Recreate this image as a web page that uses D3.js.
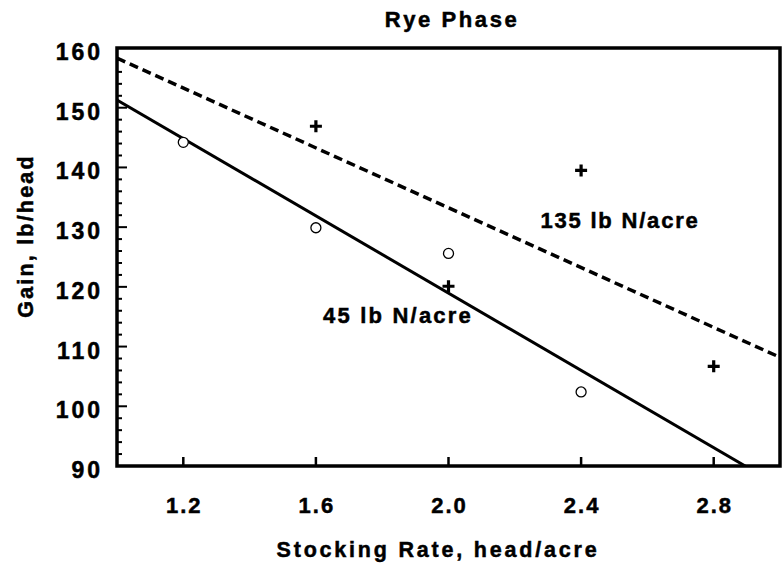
<!DOCTYPE html>
<html lang="en">
<head>
<meta charset="UTF-8">
<title>Rye Phase</title>
<script src="https://d3js.org/d3.v7.min.js"></script>
<style>
  body { margin: 0; background: white; }
  text { font-family: "Liberation Sans", Arial, sans-serif; font-weight: bold; fill: black;
         stroke: black; stroke-width: 0.5px; }
</style>
</head>
<body>
<div id="chart"></div>
<script>
// data
const rate45 = [1.2, 1.6, 2.0, 2.4];
const gain45 = [144.2, 129.9, 125.6, 102.4];
const rate135 = [1.6, 2.0, 2.4, 2.8];
const gain135 = [146.9, 120.1, 139.5, 106.7];
// fitted lines, end points
const fit45 = [[1.0, 151.3], [2.895, 90]];
const fit135 = [[1.0, 158.3], [3.0, 108.2]];
const xTicks = [1.2, 1.6, 2.0, 2.4, 2.8];
const yTicks = [90, 100, 110, 120, 130, 140, 150, 160];
const yMinor = d3.range(90, 161, 2);

const width = 783, height = 571;
const margin = { top: 48, right: 3, bottom: 105, left: 117 };

const svg = d3.select("#chart").append("svg")
    .attr("width", width).attr("height", height);

const x = d3.scaleLinear().domain([1.0, 3.0]).range([margin.left, width - margin.right]);
const y = d3.scaleLinear().domain([90, 160]).range([height - margin.bottom, margin.top]);

// title
svg.append("text").attr("x", 452).attr("y", 27).attr("text-anchor", "middle")
    .style("font-size", "22px").style("letter-spacing", "2.6px").text("Rye Phase");

// tick marks pointing in
const g = svg.append("g");
g.selectAll(".ymin").data(yMinor).enter().append("line")
    .attr("x1", x(1.0)).attr("x2", d => x(1.0) + (d % 10 === 0 ? 10 : 5))
    .attr("y1", d => y(d)).attr("y2", d => y(d))
    .attr("stroke", "black").attr("stroke-width", 2);
g.selectAll(".xt").data(xTicks).enter().append("line")
    .attr("x1", d => x(d)).attr("x2", d => x(d))
    .attr("y1", y(90)).attr("y2", y(90) - 9)
    .attr("stroke", "black").attr("stroke-width", 2.5);

// tick labels
svg.selectAll(".yl").data(yTicks).enter().append("text")
    .attr("x", 103).attr("y", d => y(d) + 12)
    .attr("text-anchor", "end").style("font-size", "23px").style("letter-spacing", "3px")
    .text(d => d);
svg.selectAll(".xl").data(xTicks).enter().append("text")
    .attr("x", d => x(d) + 1).attr("y", 513)
    .attr("text-anchor", "middle").style("font-size", "22px").style("letter-spacing", "2px")
    .text(d => d3.format(".1f")(d));

// axis titles
svg.append("text").attr("x", 438).attr("y", 557).attr("text-anchor", "middle")
    .style("font-size", "21.5px").style("letter-spacing", "2.8px").text("Stocking Rate, head/acre");
svg.append("text").attr("transform", "translate(33,236) rotate(-90)")
    .attr("text-anchor", "middle").style("font-size", "21.5px").style("letter-spacing", "2.2px")
    .text("Gain, lb/head");

// clip area for lines
svg.append("clipPath").attr("id", "clip").append("rect")
    .attr("x", x(1.0)).attr("y", y(160)).attr("width", x(3.0) - x(1.0)).attr("height", y(90) - y(160));

const line = d3.line().x(d => x(d[0])).y(d => y(d[1]));
svg.append("path").datum(fit45).attr("d", line).attr("clip-path", "url(#clip)")
    .attr("fill", "none").attr("stroke", "black").attr("stroke-width", 3);
svg.append("path").datum(fit135).attr("d", line).attr("clip-path", "url(#clip)")
    .attr("fill", "none").attr("stroke", "black").attr("stroke-width", 3.5)
    .attr("stroke-dasharray", "9,5");

// open circles, 45 lb N
svg.selectAll(".c45").data(rate45).enter().append("circle")
    .attr("cx", d => x(d)).attr("cy", (d, i) => y(gain45[i])).attr("r", 5)
    .attr("fill", "white").attr("stroke", "black").attr("stroke-width", 1.3);

// plus marks, 135 lb N
const plusShape = {
    draw(ctx) {
        ctx.moveTo(-6, -1.6); ctx.lineTo(-1.6, -1.6); ctx.lineTo(-1.6, -6); ctx.lineTo(1.6, -6);
        ctx.lineTo(1.6, -1.6); ctx.lineTo(6, -1.6); ctx.lineTo(6, 1.6); ctx.lineTo(1.6, 1.6);
        ctx.lineTo(1.6, 6); ctx.lineTo(-1.6, 6); ctx.lineTo(-1.6, 1.6); ctx.lineTo(-6, 1.6);
        ctx.closePath();
    }
};
svg.selectAll(".p135").data(rate135).enter().append("path")
    .attr("transform", (d, i) => `translate(${x(d)},${y(gain135[i])})`)
    .attr("d", d3.symbol().type(plusShape)).attr("fill", "black");

// line labels
svg.append("text").attr("x", 620).attr("y", 228).attr("text-anchor", "middle")
    .style("font-size", "22px").style("letter-spacing", "1.8px").text("135 lb N/acre");
svg.append("text").attr("x", 398).attr("y", 323).attr("text-anchor", "middle")
    .style("font-size", "22px").style("letter-spacing", "2.2px").text("45 lb N/acre");

// frame
svg.append("rect").attr("x", x(1.0)).attr("y", y(160))
    .attr("width", x(3.0) - x(1.0)).attr("height", y(90) - y(160))
    .attr("fill", "none").attr("stroke", "black").attr("stroke-width", 3.5);
</script>
</body>
</html>
